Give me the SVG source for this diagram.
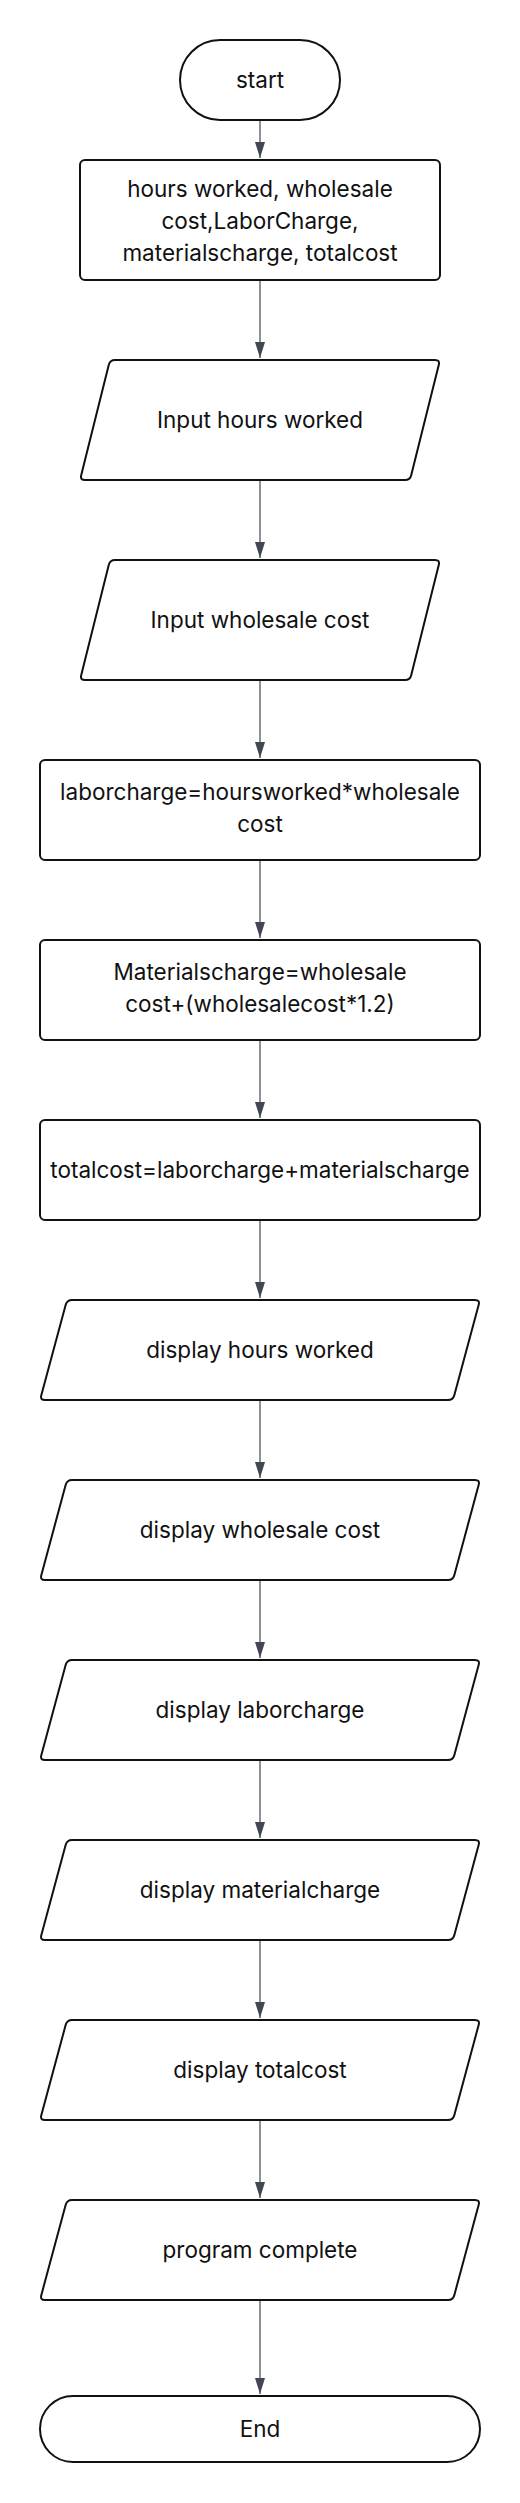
<svg xmlns="http://www.w3.org/2000/svg" width="520" height="2503" viewBox="0 0 520 2503">
<style>
.n{fill:#fff;stroke:#111;stroke-width:2;}
.t{font-family:Inter,"Liberation Sans",sans-serif;font-size:22.5px;fill:#111;text-anchor:middle;}
.c{stroke:#414652;stroke-width:1.2;fill:none;}
</style>
<defs>
<marker id="ah" markerUnits="userSpaceOnUse" viewBox="0 0 16 10" markerWidth="16" markerHeight="10" refX="16" refY="5" orient="auto">
<path d="M0,0 L16,5 L0,10 Z" fill="#414652"/>
</marker>
<path id="pin" d="M115,0 H435 Q440,0 438.8,4.85 L411.2,115.15 Q410,120 405,120 H85 Q80,120 81.2,115.15 L108.8,4.85 Q110,0 115,0 Z"/>
<path id="pout" d="M72,0 H475 Q480,0 478.7,4.83 L454.3,95.17 Q453,100 448,100 H45 Q40,100 41.3,95.17 L65.7,4.83 Q67,0 72,0 Z"/>
</defs>
<rect width="520" height="2503" fill="#fff"/>
<g id="connectors">
<line class="c" x1="260" y1="120" x2="260" y2="158" marker-end="url(#ah)"/>
<line class="c" x1="260" y1="280" x2="260" y2="358" marker-end="url(#ah)"/>
<line class="c" x1="260" y1="480" x2="260" y2="558" marker-end="url(#ah)"/>
<line class="c" x1="260" y1="680" x2="260" y2="758" marker-end="url(#ah)"/>
<line class="c" x1="260" y1="860" x2="260" y2="938" marker-end="url(#ah)"/>
<line class="c" x1="260" y1="1040" x2="260" y2="1118" marker-end="url(#ah)"/>
<line class="c" x1="260" y1="1220" x2="260" y2="1298" marker-end="url(#ah)"/>
<line class="c" x1="260" y1="1400" x2="260" y2="1478" marker-end="url(#ah)"/>
<line class="c" x1="260" y1="1580" x2="260" y2="1658" marker-end="url(#ah)"/>
<line class="c" x1="260" y1="1760" x2="260" y2="1838" marker-end="url(#ah)"/>
<line class="c" x1="260" y1="1940" x2="260" y2="2018" marker-end="url(#ah)"/>
<line class="c" x1="260" y1="2120" x2="260" y2="2198" marker-end="url(#ah)"/>
<line class="c" x1="260" y1="2300" x2="260" y2="2394" marker-end="url(#ah)"/>
</g>
<g id="start">
<rect class="n" x="180" y="40" width="160" height="80" rx="40"/>
<text class="t" x="260" y="88">start</text>
</g>
<g id="declare">
<rect class="n" x="80" y="160" width="360" height="120" rx="5"/>
<text class="t" x="260" y="197">hours worked, wholesale</text>
<text class="t" x="260" y="229">cost,LaborCharge,</text>
<text class="t" x="260" y="261">materialscharge, totalcost</text>
</g>
<g id="input-hours">
<use href="#pin" class="n" y="360"/>
<text class="t" x="260" y="428">Input hours worked</text>
</g>
<g id="input-wholesale">
<use href="#pin" class="n" y="560"/>
<text class="t" x="260" y="628">Input wholesale cost</text>
</g>
<g id="calc-labor">
<rect class="n" x="40" y="760" width="440" height="100" rx="5"/>
<text class="t" x="260" y="800">laborcharge=hoursworked*wholesale</text>
<text class="t" x="260" y="832">cost</text>
</g>
<g id="calc-materials">
<rect class="n" x="40" y="940" width="440" height="100" rx="5"/>
<text class="t" x="260" y="980">Materialscharge=wholesale</text>
<text class="t" x="260" y="1012">cost+(wholesalecost*1.2)</text>
</g>
<g id="calc-total">
<rect class="n" x="40" y="1120" width="440" height="100" rx="5"/>
<text class="t" x="260" y="1178">totalcost=laborcharge+materialscharge</text>
</g>
<g id="display-hours">
<use href="#pout" class="n" y="1300"/>
<text class="t" x="260" y="1358">display hours worked</text>
</g>
<g id="display-wholesale">
<use href="#pout" class="n" y="1480"/>
<text class="t" x="260" y="1538">display wholesale cost</text>
</g>
<g id="display-labor">
<use href="#pout" class="n" y="1660"/>
<text class="t" x="260" y="1718">display laborcharge</text>
</g>
<g id="display-material">
<use href="#pout" class="n" y="1840"/>
<text class="t" x="260" y="1898">display materialcharge</text>
</g>
<g id="display-total">
<use href="#pout" class="n" y="2020"/>
<text class="t" x="260" y="2078">display totalcost</text>
</g>
<g id="program-complete">
<use href="#pout" class="n" y="2200"/>
<text class="t" x="260" y="2258">program complete</text>
</g>
<g id="end">
<rect class="n" x="40" y="2396" width="440" height="66" rx="33"/>
<text class="t" x="260" y="2437">End</text>
</g>
</svg>
